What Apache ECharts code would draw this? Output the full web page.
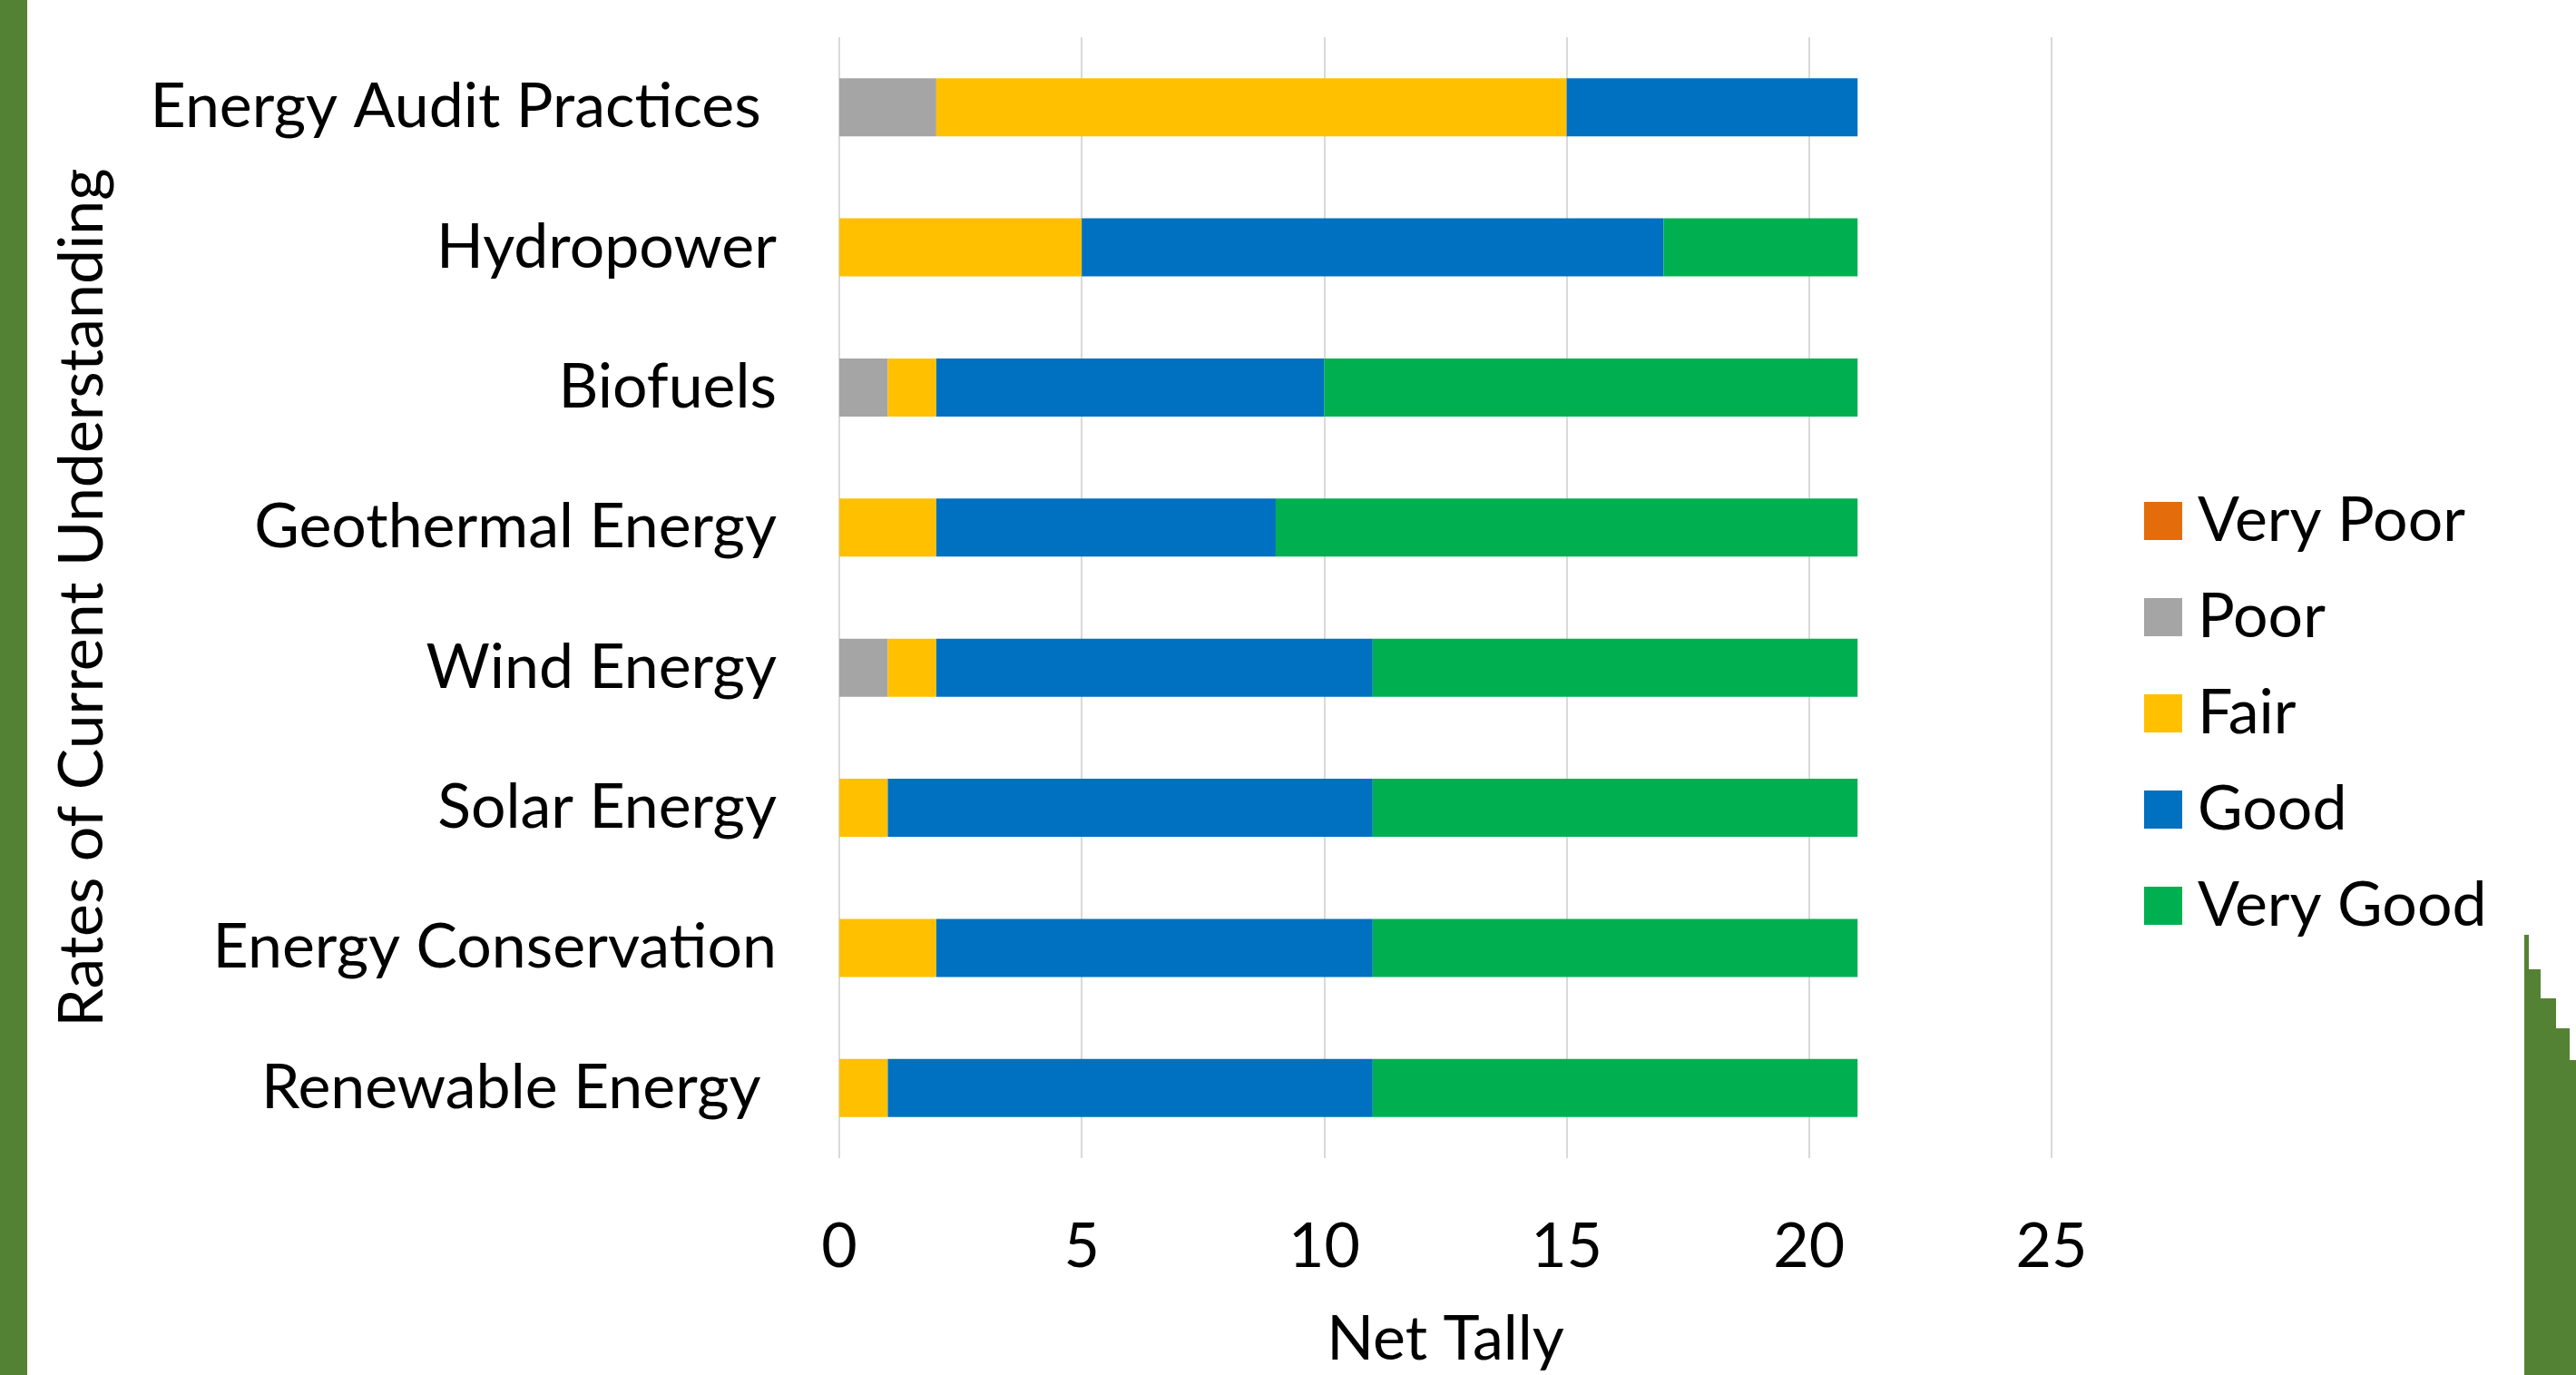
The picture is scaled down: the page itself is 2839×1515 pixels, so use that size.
<!DOCTYPE html>
<html>
<head>
<meta charset="utf-8">
<script src="https://cdn.jsdelivr.net/npm/echarts@6/dist/echarts.min.js"></script>
<style>
html,body{margin:0;padding:0;background:#fff;}
#chart{width:2839px;height:1515px;}
</style>
</head>
<body>
<div id="chart"></div>
<script>
const categories = ['Renewable Energy ', 'Energy Conservation', 'Solar Energy', 'Wind Energy', 'Geothermal Energy', 'Biofuels', 'Hydropower', 'Energy Audit Practices '];
const seriesNames = ['Very Poor', 'Poor', 'Fair', 'Good', 'Very Good'];
const veryPoor = [0, 0, 0, 0, 0, 0, 0, 0];
const poor     = [0, 0, 0, 1, 0, 1, 0, 2];
const fair     = [1, 2, 1, 1, 2, 1, 5, 13];
const good     = [10, 9, 10, 9, 7, 8, 12, 6];
const veryGood = [10, 10, 10, 10, 12, 11, 4, 0];
const colors = ['#E46C0A', '#A5A5A5', '#FFC000', '#0070C0', '#00B050'];
const xTicks = [0, 5, 10, 15, 20, 25];

const FONT = 'Lato';
const FS = 68;
const values = [veryPoor, poor, fair, good, veryGood];

const chart = echarts.init(document.getElementById('chart'), null, {renderer: 'canvas'});
chart.setOption({
  backgroundColor: '#ffffff',
  animation: false,
  textStyle: {fontFamily: FONT},
  grid: {left: 925, right: 578, top: 41, bottom: 226, containLabel: false},
  legend: {
    orient: 'vertical',
    left: 2358,
    top: 534,
    icon: 'rect',
    itemWidth: 42,
    itemHeight: 42,
    itemGap: 36,
    data: seriesNames,
    textStyle: {fontFamily: FONT, fontSize: FS, color: '#000', lineHeight: 70, padding: [0, 0, 0, 12]}
  },
  xAxis: {
    type: 'value',
    min: xTicks[0],
    max: xTicks[xTicks.length - 1],
    interval: xTicks[1] - xTicks[0],
    name: 'Net Tally',
    nameLocation: 'middle',
    nameGap: 200,
    nameTextStyle: {fontFamily: FONT, fontSize: FS, color: '#000', verticalAlign: 'middle'},
    axisLine: {show: false},
    axisTick: {show: false},
    axisLabel: {fontFamily: FONT, fontSize: FS, color: '#000', margin: 64},
    splitLine: {show: true, lineStyle: {color: '#D9D9D9', width: 2}}
  },
  yAxis: {
    type: 'category',
    data: categories,
    name: 'Rates of Current Understanding',
    nameLocation: 'middle',
    nameRotate: 90,
    nameGap: 834,
    nameTextStyle: {fontFamily: FONT, fontSize: FS, color: '#000', verticalAlign: 'middle'},
    axisLine: {show: false},
    axisTick: {show: false},
    axisLabel: {fontFamily: FONT, fontSize: FS, color: '#000', margin: 69},
    splitLine: {show: false}
  },
  series: seriesNames.map((n, i) => ({
    name: n,
    type: 'bar',
    stack: 'total',
    barWidth: 64,
    itemStyle: {color: colors[i]},
    data: values[i]
  })),
  graphic: [
    {type: 'rect', left: 0, top: 0, shape: {x: 0, y: 0, width: 30, height: 1515}, style: {fill: '#548235'}, silent: true, z: -1},
    {type: 'polygon', shape: {points: [[2782, 1030], [2787, 1030], [2787, 1068], [2800, 1068], [2800, 1100], [2817, 1100], [2817, 1133], [2832, 1133], [2832, 1168], [2839, 1168], [2839, 1515], [2782, 1515]]}, style: {fill: '#548235'}, silent: true, z: -1}
  ]
});
</script>
</body>
</html>
